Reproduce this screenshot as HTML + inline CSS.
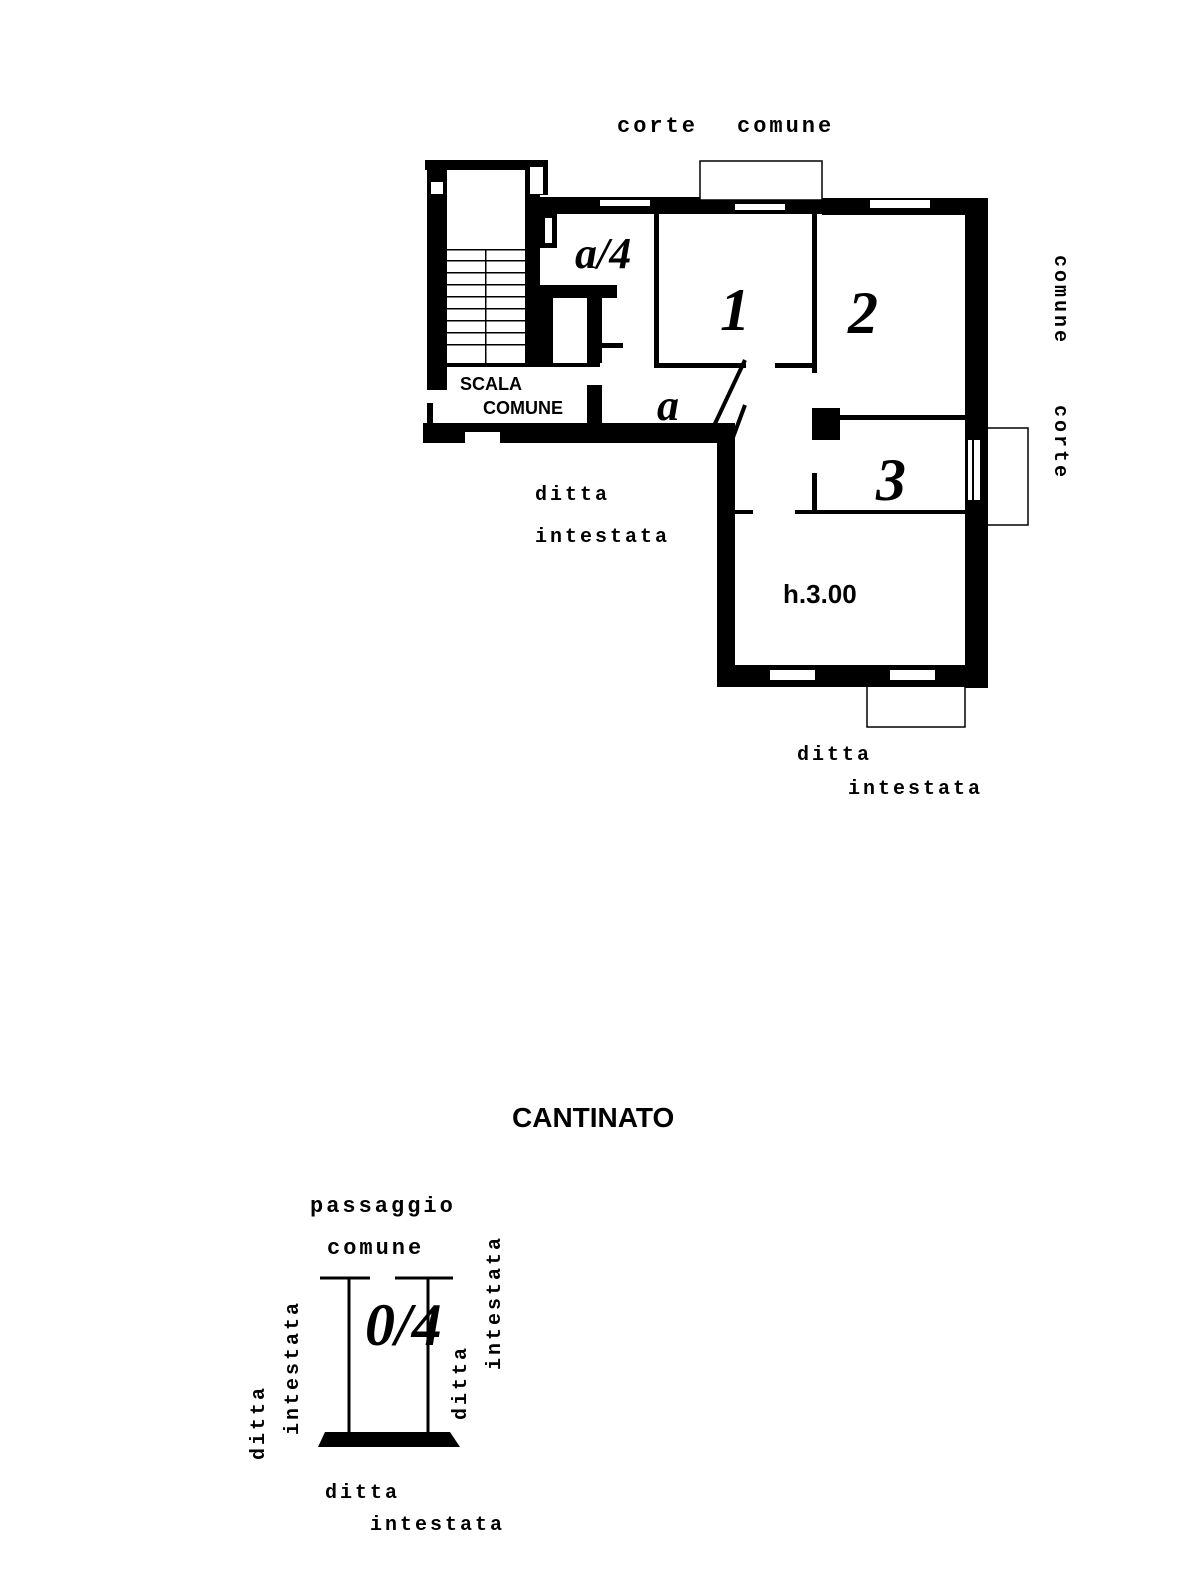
<!DOCTYPE html>
<html><head><meta charset="utf-8"><style>
html,body{margin:0;padding:0;background:#fff;}
svg{display:block}
text{font-family:"Liberation Mono",monospace;font-weight:bold;fill:#000;letter-spacing:3px}
.h{font-family:"Liberation Sans",sans-serif;font-weight:bold;letter-spacing:0}
.s{font-family:"Liberation Serif",serif;font-style:italic;letter-spacing:0}
</style></head><body>
<svg width="1179" height="1572" viewBox="0 0 1179 1572" xmlns="http://www.w3.org/2000/svg">
<g fill="#000">
<rect x="425" y="160" width="123" height="10"/>
<rect x="427" y="160" width="20" height="230"/>
<rect x="427" y="403" width="6" height="25"/>
<rect x="431" y="182" width="12" height="12" fill="#fff"/>
<rect x="525" y="160" width="23" height="35"/>
<rect x="530" y="167" width="13" height="27" fill="#fff"/>
<rect x="525" y="195" width="15" height="170"/>
<rect x="525" y="197" width="175" height="17"/>
<rect x="822" y="198" width="166" height="17"/>
<rect x="700" y="200" width="122" height="14"/>
<rect x="735" y="204" width="50" height="6" fill="#fff"/>
<rect x="870" y="200" width="60" height="8" fill="#fff"/>
<rect x="600" y="200" width="50" height="6" fill="#fff"/>
<rect x="965" y="198" width="23" height="490"/>
<rect x="968" y="440" width="12" height="60" fill="#fff"/>
<rect x="972" y="440" width="2" height="60"/>
<rect x="717" y="665" width="271" height="22"/>
<rect x="770" y="670" width="45" height="10" fill="#fff"/>
<rect x="890" y="670" width="45" height="10" fill="#fff"/>
<rect x="717" y="430" width="18" height="257"/>
<rect x="423" y="423" width="312" height="20"/>
<rect x="465" y="432" width="35" height="11" fill="#fff"/>
<rect x="540" y="213" width="17" height="35"/>
<rect x="545" y="218" width="7" height="25" fill="#fff"/>
<rect x="540" y="285" width="77" height="13"/>
<rect x="540" y="298" width="13" height="65"/>
<rect x="587" y="285" width="15" height="78"/>
<rect x="587" y="385" width="15" height="45"/>
<rect x="602" y="343" width="21" height="5"/>
<rect x="445" y="363" width="155" height="4"/>
<rect x="447" y="249" width="78" height="1.5"/>
<rect x="447" y="260" width="78" height="1.5"/>
<rect x="447" y="272" width="78" height="1.5"/>
<rect x="447" y="284" width="78" height="1.5"/>
<rect x="447" y="296" width="78" height="1.5"/>
<rect x="447" y="308" width="78" height="1.5"/>
<rect x="447" y="320" width="78" height="1.5"/>
<rect x="447" y="332" width="78" height="1.5"/>
<rect x="447" y="344" width="78" height="1.5"/>
<rect x="485" y="249" width="1.5" height="114"/>
<rect x="654" y="213" width="5" height="155"/>
<rect x="654" y="363" width="92" height="5"/>
<rect x="775" y="363" width="42" height="5"/>
<rect x="812" y="213" width="5" height="160"/>
<rect x="817" y="415" width="148" height="5"/>
<rect x="812" y="408" width="28" height="32"/>
<rect x="812" y="473" width="5" height="40"/>
<rect x="735" y="510" width="18" height="4"/>
<rect x="795" y="510" width="170" height="4"/>
</g>
<g fill="none" stroke="#000" stroke-width="1.5">
<rect x="700" y="161" width="122" height="39"/>
<path d="M988 428 H1028 V525 H982"/>
<path d="M867 687 V727 H965 V687"/>
<path d="M320 1278 H370 M395 1278 H453" stroke-width="3"/>
<path d="M349 1278 V1432 M428 1278 V1432" stroke-width="3"/>
</g>
<path d="M325 1432 H450 L460 1447 H318 Z" fill="#000"/>
<path d="M745 360 L712 430 M732 440 L745 405" stroke="#000" stroke-width="4" fill="none"/>
<text x="617" y="132" font-size="22">corte</text>
<text x="737" y="132" font-size="22">comune</text>
<text transform="translate(1055,255) rotate(90)" font-size="20">comune</text>
<text transform="translate(1055,405) rotate(90)" font-size="20">corte</text>
<text class="h" x="460" y="390" font-size="18">SCALA</text>
<text class="h" x="483" y="414" font-size="18">COMUNE</text>
<text x="535" y="500" font-size="20">ditta</text>
<text x="535" y="542" font-size="20">intestata</text>
<text x="797" y="760" font-size="20">ditta</text>
<text x="848" y="794" font-size="20">intestata</text>
<text class="h" x="512" y="1127" font-size="28" font-weight="normal">CANTINATO</text>
<text x="310" y="1212" font-size="22">passaggio</text>
<text x="327" y="1254" font-size="22">comune</text>
<text transform="translate(264,1460) rotate(-90)" font-size="20">ditta</text>
<text transform="translate(298,1435) rotate(-90)" font-size="20">intestata</text>
<text transform="translate(466,1420) rotate(-90)" font-size="20">ditta</text>
<text transform="translate(500,1370) rotate(-90)" font-size="20">intestata</text>
<text x="325" y="1498" font-size="20">ditta</text>
<text x="370" y="1530" font-size="20">intestata</text>
<text class="s" x="575" y="268" font-size="44">a/4</text>
<text class="s" x="657" y="420" font-size="44">a</text>
<text class="s" x="720" y="330" font-size="60">1</text>
<text class="s" x="848" y="333" font-size="60">2</text>
<text class="s" x="876" y="500" font-size="60">3</text>
<text class="s" x="365" y="1345" font-size="60">0/4</text>
<text class="h" x="783" y="603" font-size="26" font-weight="normal">h.3.00</text>
</svg>
</body></html>
